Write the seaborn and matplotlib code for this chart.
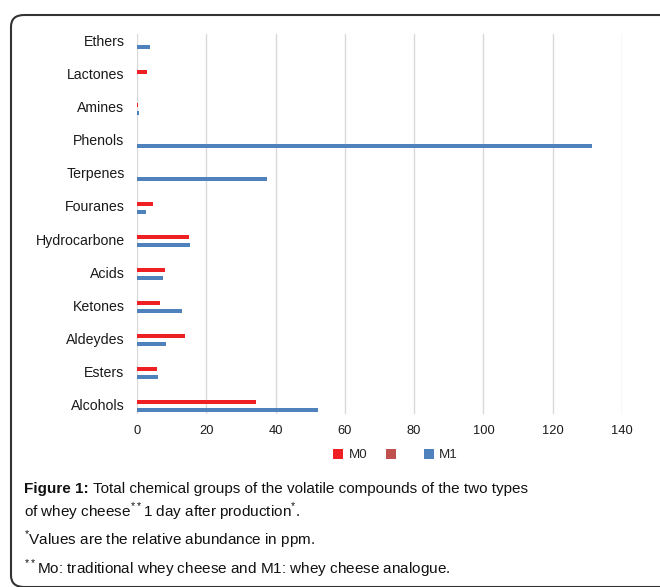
import pandas as pd
import numpy as np
import matplotlib
matplotlib.use("Agg")
import matplotlib.pyplot as plt
import matplotlib.transforms as mtransforms
from matplotlib.patches import FancyBboxPatch
import seaborn as sns

# --- Data ---
categories = ["Ethers", "Lactones", "Amines", "Phenols", "Terpenes", "Fouranes",
              "Hydrocarbone", "Acids", "Ketones", "Aldeydes", "Esters", "Alcohols"]
m0_values = [0.0, 2.8, 0.4, 0.0, 0.0, 4.7, 15.1, 8.0, 6.6, 13.9, 5.9, 34.3]
m1_values = [3.7, 0.0, 0.5, 131.3, 37.5, 2.6, 15.3, 7.5, 12.9, 8.5, 6.1, 52.2]
blank_values = [0.0] * len(categories)  # empty middle series shown in the legend
series_names = ["M0", " ", "M1"]
series_colors = ["#EE2024", "#C0504D", "#4F81BD"]
x_ticks = [0, 20, 40, 60, 80, 100, 120, 140]

df = pd.DataFrame({
    "group": categories * 3,
    "value": m0_values + blank_values + m1_values,
    "series": [series_names[0]] * 12 + [series_names[1]] * 12 + [series_names[2]] * 12,
})

sns.set_theme(style="white")
plt.rcParams["font.family"] = ["Liberation Sans", "DejaVu Sans"]
plt.rcParams["mathtext.fontset"] = "custom"
plt.rcParams["mathtext.rm"] = "Liberation Sans"

fig = plt.figure(figsize=(6.6, 5.87), dpi=100)
ax = fig.add_axes([0.2076, 0.2947, 0.7348, 0.6469])

sns.barplot(data=df, x="value", y="group", hue="series", order=categories,
            hue_order=series_names, palette=series_colors, width=0.35,
            saturation=1, linewidth=0, orient="h", ax=ax, legend=True)

ax.set_xlim(0, 140)
ax.set_ylim(11.235, -0.257)
ax.set_xticks(x_ticks)
ax.set_xlabel("")
ax.set_ylabel("")
ax.grid(axis="x", color="#D9D9D9", linewidth=1)
ax.grid(axis="y", visible=False)
ax.set_axisbelow(True)
for sp in ax.spines.values():
    sp.set_visible(False)
ax.tick_params(axis="x", labelsize=9.3, colors="#1A1A1A", pad=8, length=0)
ax.tick_params(axis="y", labelsize=10.2, colors="#1A1A1A", pad=9, length=0)

# category labels sit a touch above the bar pair centre in the reference
shift = mtransforms.ScaledTranslation(0, 2 / 100, fig.dpi_scale_trans)
for lbl in ax.get_yticklabels():
    lbl.set_transform(lbl.get_transform() + shift)

handles, labels = ax.get_legend_handles_labels()
ax.legend(handles, labels, loc="center", bbox_to_anchor=(0.533, -0.108), ncol=3,
          frameon=False, handlelength=0.75, handleheight=0.75, handletextpad=0.4,
          columnspacing=1.4, fontsize=9.6)

# rounded frame around the figure panel
frame = FancyBboxPatch((11 / 660, 0), 700 / 660, (587 - 15) / 587,
                       boxstyle="round,pad=0,rounding_size=0.02",
                       transform=fig.transFigure, fill=False,
                       edgecolor="#333333", linewidth=1.5, clip_on=False)
fig.patches.append(frame)

# caption
cap_x = 24 / 660
cap_size = 11
bold = fig.text(cap_x, 1 - 489 / 587, "Figure 1:", fontsize=cap_size, fontweight="bold",
                va="center", color="#111111")
fig.canvas.draw()
bb = bold.get_window_extent().transformed(fig.transFigure.inverted())
fig.text(bb.x1 + 4 / 660, 1 - 489 / 587,
         "Total chemical groups of the volatile compounds of the two types",
         fontsize=cap_size, va="center", color="#111111")
fig.text(cap_x, 1 - 512 / 587, "of whey cheese$^{**}$1 day after production$^{*}$.",
         fontsize=cap_size, va="center", color="#111111")
fig.text(cap_x, 1 - 540 / 587, "$^{*}$Values are the relative abundance in ppm.",
         fontsize=cap_size, va="center", color="#111111")
fig.text(cap_x, 1 - 569 / 587, "$^{**}$Mo: traditional whey cheese and M1: whey cheese analogue.",
         fontsize=cap_size, va="center", color="#111111")

fig.savefig("out.png", dpi=100)
